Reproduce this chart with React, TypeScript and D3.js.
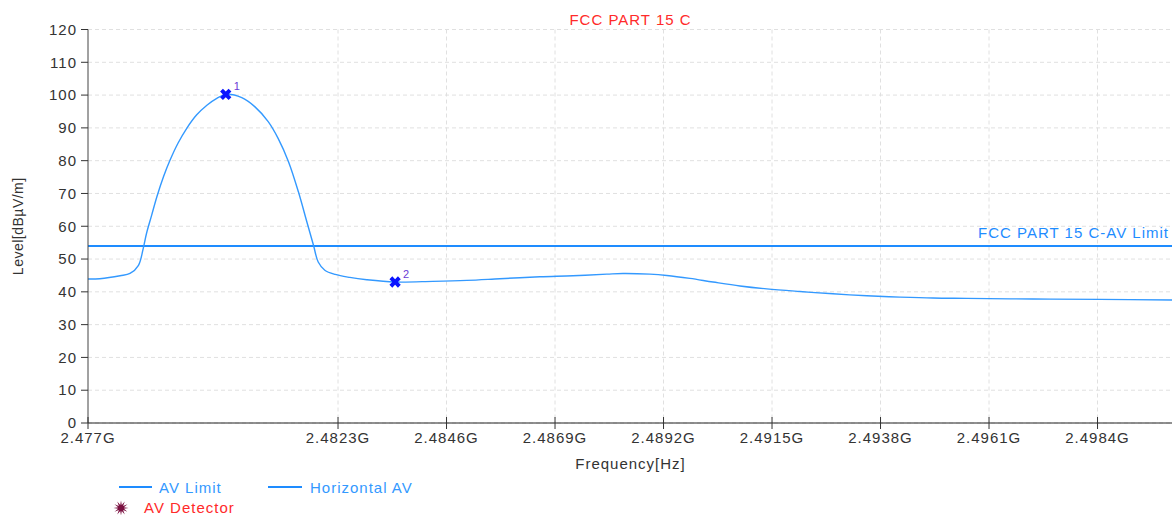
import React from 'react'
import * as d3 from 'd3'

// trace: frequency in GHz, level in dBµV/m
const traceFreq = [
  2.47700, 2.47725, 2.47768, 2.47789, 2.47807, 2.47817, 2.47824, 2.47835, 2.47846, 2.47860,
  2.47874, 2.47891, 2.47909, 2.47930, 2.47952, 2.47973, 2.47992, 2.48026, 2.48054, 2.48082,
  2.48103, 2.48125, 2.48146, 2.48164, 2.48178, 2.48188, 2.48202, 2.48224, 2.48255, 2.48291,
  2.48351, 2.48431, 2.48503, 2.48573, 2.48658, 2.48728, 2.48800, 2.48834, 2.48891, 2.48927,
  2.48976, 2.49025, 2.49082, 2.49139, 2.49209, 2.49279, 2.49351, 2.49421, 2.49491, 2.49563,
  2.49703, 2.49845, 2.50000,
]
const traceLevel = [
  43.9, 44.0, 44.9, 45.6, 48.1, 53.2, 57.8, 63.4, 69.0, 75.1,
  80.2, 85.4, 89.8, 93.9, 96.9, 99.0, 100.2, 99.2, 96.4, 91.9,
  86.8, 79.7, 70.5, 61.3, 54.2, 49.1, 46.6, 45.3, 44.4, 43.7,
  43.0, 43.2, 43.5, 44.0, 44.6, 44.9, 45.4, 45.6, 45.4, 45.0,
  44.1, 43.0, 41.8, 40.9, 40.1, 39.4, 38.8, 38.4, 38.1, 38.0,
  37.8, 37.7, 37.5,
]

const limitLevel = 54
const markers = [
  { id: '1', freq: 2.47992, level: 100.2 },
  { id: '2', freq: 2.48351, level: 43.0 },
]

const xTicks = [2.477, 2.4823, 2.4846, 2.4869, 2.4892, 2.4915, 2.4938, 2.4961, 2.4984]
const yTicks = [0, 10, 20, 30, 40, 50, 60, 70, 80, 90, 100, 110, 120]

const BLUE = '#1e8cff'
const TRACE = '#3399ff'
const RED = '#ff2a2a'
const FONT = 'Arial, "Liberation Sans", sans-serif'

export default function App() {
  const width = 1172
  const height = 515
  const left = 88
  const right = 1173
  const top = 29.5
  const bottom = 423

  const x = d3.scaleLinear().domain([2.477, 2.5]).range([left, right])
  const y = d3.scaleLinear().domain([0, 120]).range([bottom, top])

  const pts = traceFreq.map((f, i) => [f, traceLevel[i]])
  const line = d3.line()
    .x(d => x(d[0]))
    .y(d => y(d[1]))
    .curve(d3.curveCatmullRom.alpha(0.5))

  const cross = d3.symbol().type(d3.symbolCross).size(80)()

  // starburst for the detector legend
  const star = d3.lineRadial().curve(d3.curveLinearClosed)(
    d3.range(24).map(i => [i * Math.PI / 12, i % 2 ? 3 : 7.5])
  )

  const txt = { fontFamily: FONT, fontSize: 15, letterSpacing: 1 }

  return (
    <svg width={width} height={height} style={{ position: 'absolute', left: 0, top: 0, background: '#fff' }}>
      {/* grid */}
      {yTicks.map(t => (
        <line key={'gy' + t} x1={left} x2={right} y1={y(t)} y2={y(t)}
          stroke="#e0e0e0" strokeDasharray="4,3" />
      ))}
      {xTicks.slice(1).map(t => (
        <line key={'gx' + t} x1={x(t)} x2={x(t)} y1={top} y2={bottom}
          stroke="#e0e0e0" strokeDasharray="4,3" />
      ))}

      {/* title */}
      <text x={(left + right) / 2} y={25} textAnchor="middle" fill={RED} style={txt}>FCC PART 15 C</text>

      {/* limit */}
      <line x1={left} x2={right} y1={y(limitLevel)} y2={y(limitLevel)} stroke={BLUE} strokeWidth={2} />
      <text x={1169} y={238} textAnchor="end" fill={BLUE} style={txt}>FCC PART 15 C-AV Limit</text>

      {/* trace */}
      <path d={line(pts) || ''} fill="none" stroke={TRACE} strokeWidth={1.4} />

      {/* markers */}
      {markers.map(m => (
        <g key={m.id} transform={`translate(${x(m.freq)},${y(m.level)})`}>
          <path d={cross || ''} transform="rotate(45)" fill="#0a14ff" />
          <text x={8} y={-4} fill="#6a3ad6" style={{ fontFamily: FONT, fontSize: 11 }}>{m.id}</text>
        </g>
      ))}

      {/* axes */}
      <line x1={left} x2={left} y1={top} y2={bottom} stroke="#444" />
      <line x1={left} x2={right} y1={bottom} y2={bottom} stroke="#222" />
      {yTicks.map(t => (
        <g key={'ty' + t}>
          <line x1={left - 7} x2={left} y1={y(t)} y2={y(t)} stroke="#333" />
          <text x={77} y={y(t)} dy="0.35em" textAnchor="end" fill="#333" style={txt}>{t}</text>
        </g>
      ))}
      {xTicks.map(t => (
        <g key={'tx' + t}>
          <line x1={x(t)} x2={x(t)} y1={bottom - 6} y2={bottom + 6} stroke="#333" />
          <text x={x(t)} y={443} textAnchor="middle" fill="#333" style={txt}>{t + 'G'}</text>
        </g>
      ))}
      <text x={(left + right) / 2} y={469} textAnchor="middle" fill="#333" style={txt}>Frequency[Hz]</text>
      <text transform={`translate(23,${(top + bottom) / 2}) rotate(-90)`} textAnchor="middle" fill="#333"
        style={{ fontFamily: FONT, fontSize: 14, letterSpacing: 0.5 }}>Level[dBµV/m]</text>

      {/* legend */}
      <line x1={119} x2={152} y1={487} y2={487} stroke={BLUE} strokeWidth={2} />
      <text x={159} y={493} fill={TRACE} style={txt}>AV Limit</text>
      <line x1={268} x2={302} y1={487} y2={487} stroke={BLUE} strokeWidth={2} />
      <text x={310} y={493} fill={TRACE} style={txt}>Horizontal AV</text>
      <path d={star || ''} transform="translate(121,508)" fill="#7a1040" />
      <text x={144} y={513} fill={RED} style={txt}>AV Detector</text>
    </svg>
  )
}
